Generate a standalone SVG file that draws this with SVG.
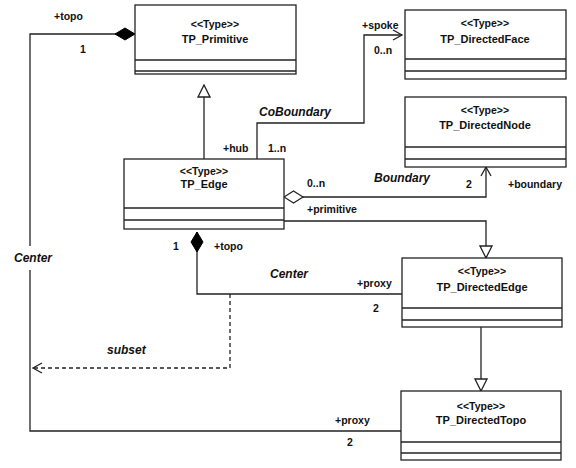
<svg xmlns="http://www.w3.org/2000/svg" width="576" height="468" viewBox="0 0 576 468">
<style>
  .box{fill:#fff;stroke:#222;stroke-width:1.3}
  .sep{stroke:#222;stroke-width:1.3}
  .st{font-family:"Liberation Sans",Arial,sans-serif;font-weight:bold;font-size:10.5px;fill:#111;text-anchor:middle}
  .nm{font-family:"Liberation Sans",Arial,sans-serif;font-weight:bold;font-size:11px;fill:#111;text-anchor:middle}
  .lb{font-family:"Liberation Sans",Arial,sans-serif;font-weight:bold;font-size:10.5px;fill:#111}
  .it{font-family:"Liberation Sans",Arial,sans-serif;font-weight:bold;font-style:italic;font-size:12px;fill:#111}
  .ln{fill:none;stroke:#222;stroke-width:1.3}
  .dash{stroke-dasharray:4,3}
</style>
<defs>
  <marker id="tri" markerUnits="userSpaceOnUse" markerWidth="14" markerHeight="14" viewBox="0 0 14 14" refX="13" refY="7" orient="auto">
    <path d="M1,1 L13,7 L1,13 Z" fill="#fff" stroke="#222" stroke-width="1.3"/>
  </marker>
  <marker id="open" markerUnits="userSpaceOnUse" markerWidth="12" markerHeight="12" viewBox="0 0 12 12" refX="10" refY="6" orient="auto">
    <path d="M1,1 L10,6 L1,11" fill="none" stroke="#222" stroke-width="1.3"/>
  </marker>
  <marker id="dfill" markerUnits="userSpaceOnUse" markerWidth="22" markerHeight="16" viewBox="0 0 22 16" refX="1" refY="8" orient="auto">
    <path d="M1,8 L11,2 L21,8 L11,14 Z" fill="#000" stroke="#000" stroke-width="1"/>
  </marker>
  <marker id="dhollow" markerUnits="userSpaceOnUse" markerWidth="22" markerHeight="14" viewBox="0 0 22 14" refX="1" refY="7" orient="auto">
    <path d="M1,7 L10.5,1 L20,7 L10.5,13 Z" fill="#fff" stroke="#222" stroke-width="1.2"/>
  </marker>
</defs>
<rect width="576" height="468" fill="#fff"/>

<g id="connectors">
  <path class="ln" d="M135,34 L30,34 L30,246 M30,270 L30,431 L401,431" marker-start="url(#dfill)"/>
  <path class="ln" d="M204,159 L204,85" marker-end="url(#tri)"/>
  <path class="ln" d="M257,159 L257,123 L364,123 L364,35 L402,35" marker-end="url(#open)"/>
  <path class="ln" d="M284,197 L486,197 L486,167" marker-start="url(#dhollow)" marker-end="url(#open)"/>
  <path class="ln" d="M284,221 L486,221 L486,258" marker-end="url(#tri)"/>
  <path class="ln" d="M197,232 L197,294 L402,294" marker-start="url(#dfill)"/>
  <path class="ln dash" d="M230,294 L230,368 L33,368" marker-end="url(#open)"/>
  <path class="ln" d="M481,327 L481,391" marker-end="url(#tri)"/>
</g>

<g id="TP_Primitive">
  <rect class="box" x="135" y="5" width="161" height="69"/>
  <line class="sep" x1="135" y1="60" x2="296" y2="60"/>
  <line class="sep" x1="135" y1="71" x2="296" y2="71"/>
  <text class="st" x="215" y="28">&lt;&lt;Type&gt;&gt;</text>
  <text class="nm" x="215" y="43">TP_Primitive</text>
</g>
<g id="TP_DirectedFace">
  <rect class="box" x="405" y="10" width="161" height="69"/>
  <line class="sep" x1="405" y1="59" x2="566" y2="59"/>
  <line class="sep" x1="405" y1="71" x2="566" y2="71"/>
  <text class="st" x="485" y="27">&lt;&lt;Type&gt;&gt;</text>
  <text class="nm" x="485" y="43">TP_DirectedFace</text>
</g>
<g id="TP_DirectedNode">
  <rect class="box" x="405" y="97" width="161" height="70"/>
  <line class="sep" x1="405" y1="147" x2="566" y2="147"/>
  <line class="sep" x1="405" y1="159" x2="566" y2="159"/>
  <text class="st" x="485" y="114">&lt;&lt;Type&gt;&gt;</text>
  <text class="nm" x="485" y="129">TP_DirectedNode</text>
</g>
<g id="TP_Edge">
  <rect class="box" x="124" y="159" width="160" height="70"/>
  <line class="sep" x1="124" y1="208" x2="284" y2="208"/>
  <line class="sep" x1="124" y1="220" x2="284" y2="220"/>
  <text class="st" x="204" y="175">&lt;&lt;Type&gt;&gt;</text>
  <text class="nm" x="204" y="188">TP_Edge</text>
</g>
<g id="TP_DirectedEdge">
  <rect class="box" x="402" y="258" width="160" height="69"/>
  <line class="sep" x1="402" y1="308" x2="562" y2="308"/>
  <line class="sep" x1="402" y1="320" x2="562" y2="320"/>
  <text class="st" x="482" y="275">&lt;&lt;Type&gt;&gt;</text>
  <text class="nm" x="482" y="291">TP_DirectedEdge</text>
</g>
<g id="TP_DirectedTopo">
  <rect class="box" x="401" y="391" width="160" height="69"/>
  <line class="sep" x1="401" y1="442" x2="561" y2="442"/>
  <line class="sep" x1="401" y1="453" x2="561" y2="453"/>
  <text class="st" x="481" y="410">&lt;&lt;Type&gt;&gt;</text>
  <text class="nm" x="481" y="424">TP_DirectedTopo</text>
</g>

<g id="labels">
  <text class="lb" x="54" y="20">+topo</text>
  <text class="lb" x="80" y="53">1</text>
  <text class="lb" x="362" y="29">+spoke</text>
  <text class="lb" x="374" y="54">0..n</text>
  <text class="it" x="259" y="116">CoBoundary</text>
  <text class="lb" x="223" y="152">+hub</text>
  <text class="lb" x="268" y="152">1..n</text>
  <text class="lb" x="307" y="187">0..n</text>
  <text class="lb" x="307" y="213">+primitive</text>
  <text class="it" x="374" y="182">Boundary</text>
  <text class="lb" x="466" y="188">2</text>
  <text class="lb" x="508" y="188">+boundary</text>
  <text class="lb" x="173" y="250">1</text>
  <text class="lb" x="214" y="250">+topo</text>
  <text class="it" x="270" y="278">Center</text>
  <text class="lb" x="357" y="287">+proxy</text>
  <text class="lb" x="373" y="312">2</text>
  <text class="it" x="107" y="354">subset</text>
  <text class="it" x="14" y="262">Center</text>
  <text class="lb" x="335" y="424">+proxy</text>
  <text class="lb" x="347" y="446">2</text>
</g>
</svg>
